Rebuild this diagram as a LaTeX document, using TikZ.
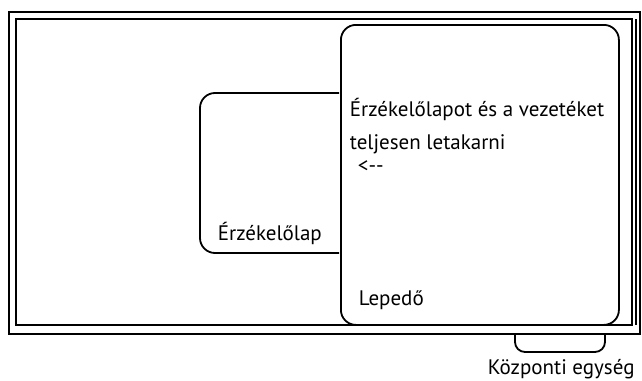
\documentclass[tikz,border=0pt]{standalone}
\usepackage{fontspec}
\setmainfont{PT Sans}
\begin{document}
\begin{tikzpicture}[x=1pt,y=-1pt,line width=1.8pt,
  lbl/.style={font=\fontsize{21}{33}\selectfont,inner sep=0pt,align=left}]
\useasboundingbox (0,0) rectangle (642,380);
% frame
\draw[line width=1.6pt] (9,12) rectangle (640,334);
\draw[line width=1.6pt] (16,19) rectangle (632,325);
\draw[line width=1.2pt] (636,19) -- (636,325);
% sensor pad
\coordinate (sa) at (339,93);
\coordinate (sb) at (339,253);
\draw[rounded corners=15pt] (sa) -- (200,93) -- (200,253) -- (sb);
% sheet
\node[draw,fill=white,rounded corners=15pt,minimum width=278pt,minimum height=300pt,inner sep=0pt,anchor=north west] (lep) at (340,24) {};
% central unit
\coordinate (ka) at (515,334);
\coordinate (kb) at (605,334);
\draw[rounded corners=10pt] (ka) -- (515,352) -- (605,352) -- (kb);
% texts
\node[lbl,anchor=base west] (t1) at (349,116) {Érzékelőlapot és a vezetéket};
\node[lbl,anchor=base west] (t1b) at (349,149) {teljesen letakarni};
\node[lbl,anchor=base west] (t2) at (357,172) {<{-}{-}};
\node[lbl,anchor=base west] (t3) at (358,305) {Lepedő};
\node[lbl,anchor=base west] (t4) at (217,240) {Érzékelőlap};
\node[lbl,anchor=base west] (t5) at (487,374) {Központi egység};
\end{tikzpicture}
\end{document}
